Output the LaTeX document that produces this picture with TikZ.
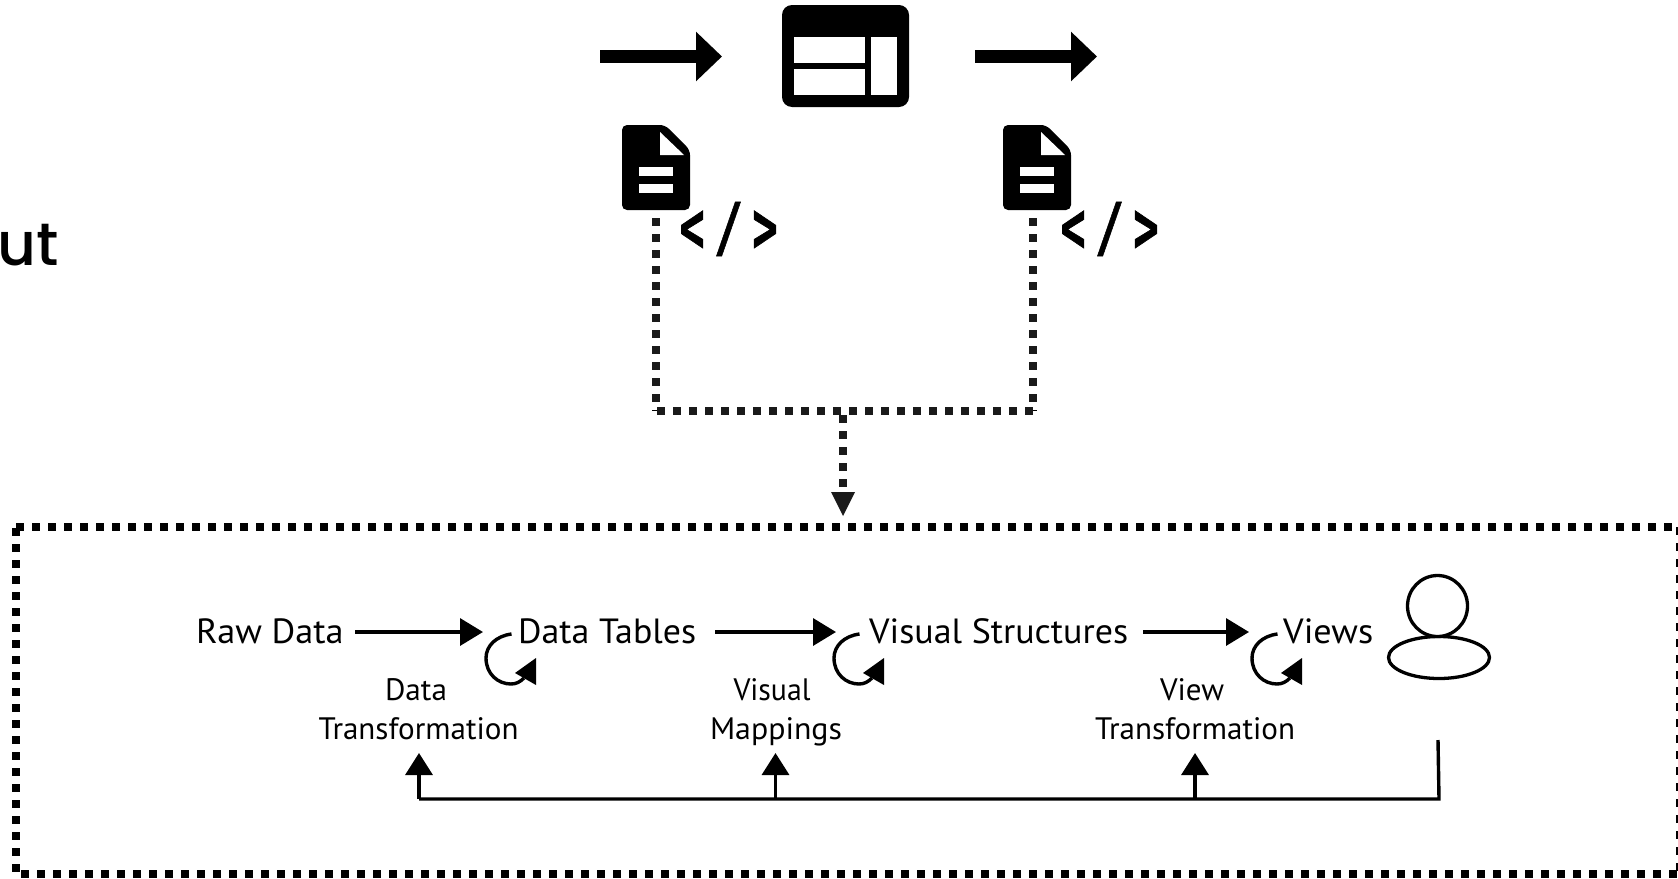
\documentclass[tikz,border=0pt]{standalone}
\usepackage{fontspec}
\usepackage{graphicx}
\setmainfont{PT Sans}
\newfontfamily\utfont{Poppins Medium}
\newfontfamily\codefont[BoldFeatures={FakeBold=1}]{DejaVu Sans Mono}
\usetikzlibrary{arrows.meta}
\definecolor{dotc}{HTML}{1A1A1A}
\tikzset{
  txt/.style={inner sep=0pt,anchor=base west,text=black},
  ctr/.style={inner sep=0pt,anchor=base,text=black},
  big/.style={font=\fontsize{35pt}{35pt}\selectfont},
  small/.style={font=\fontsize{31pt}{31pt}\selectfont},
  blockarrow/.style={line width=13pt,-{Triangle[length=26pt,width=48pt]}},
  flow/.style={line width=3.4pt,-{Triangle[length=23pt,width=27pt]}},
  feedback/.style={line width=3.4pt,-{Triangle[length=22pt,width=27pt]}},
  plain/.style={line width=3.4pt},
  usershape/.style={line width=3.3pt},
  dots/.style={draw=dotc,line width=8pt,dash pattern=on 8pt off 8pt},
  boxdots/.style={draw=black,line width=8pt,dash pattern=on 8pt off 8pt},
  codetxt/.style={inner sep=0pt,anchor=base,font=\codefont\bfseries\fontsize{60pt}{60pt}\selectfont},
}
\newcommand{\tw}[2]{\resizebox{#1pt}{\height}{#2}}
\newcommand{\tagtext}{\raisebox{-7pt}{\scalebox{.7}[1.2]{<}}\kern9pt\raisebox{-5pt}{\scalebox{.82}[1.1]{/}}\kern9pt\raisebox{-7pt}{\scalebox{.7}[1.2]{>}}}
\newcommand{\docicon}{%
  \fill[black,rounded corners=5pt] (622,125) -- (665,125) -- (690,150) -- (690,210) -- (622,210) -- cycle;
  \fill[white] (660,132) -- (660,155) -- (684,155) -- cycle;
  \fill[white] (639,167) rectangle (673,176);
  \fill[white] (639,184) rectangle (673,193);
}
\begin{document}
\begin{tikzpicture}[x=1pt,y=-1pt]
\useasboundingbox (0,0) rectangle (1678,878);
\clip (0,0) rectangle (1678,878);
\fill[white] (0,0) rectangle (1678,878);

% clipped text
\node[txt,font=\utfont\fontsize{60pt}{60pt}\selectfont] (ut) at (-3,265) {ut};

% top arrows
\coordinate (a1s) at (600,56.5); \coordinate (a1e) at (722,56.5);
\coordinate (a2s) at (975,56.5); \coordinate (a2e) at (1097,56.5);
\draw[blockarrow] (a1s) -- (a1e);
\draw[blockarrow] (a2s) -- (a2e);

% window icon
\node[fill=black,rounded corners=10pt,minimum width=127pt,minimum height=102pt,inner sep=0pt] (win) at (845.5,56) {};
\fill[white] (794,37) rectangle (865,63);
\fill[white] (794,69) rectangle (865,95);
\fill[white] (871,37) rectangle (897,95);

% doc icons
\docicon
\begin{scope}[shift={(381,0)}]\docicon\end{scope}

% code text
\node[codetxt] (code1) at (728.5,245) {\tagtext};
\node[codetxt] (code2) at (1109.5,245) {\tagtext};

% dotted bracket
\coordinate (d1) at (656,218); \coordinate (d1b) at (656,411);
\coordinate (d2) at (1033,218); \coordinate (d2b) at (1033,411);
\coordinate (h1) at (657,411); \coordinate (h2) at (1033,411);
\coordinate (m1) at (843,415); \coordinate (m2) at (843,490);
\coordinate (tip) at (843,516);
\draw[dots] (d1) -- (d1b);
\draw[dots] (d2) -- (d2b);
\draw[dots] (h1) -- (h2);
\draw[dots] (m1) -- (m2);
\fill[dotc] (831,492) -- (855,492) -- (tip) -- cycle;
\draw[black,line width=0.8pt] (652,410.5) -- (657,410.5);
\draw[black,line width=0.8pt] (1033,410.5) -- (1037,410.5);

% dotted box
\coordinate (bx1) at (16,527); \coordinate (bx2) at (1680,527);
\coordinate (bx3) at (16,528); \coordinate (bx4) at (16,878);
\coordinate (bx6) at (21,874); \coordinate (bx5) at (1680,874);
\draw[boxdots] (bx1) -- (bx2);
\draw[boxdots] (bx3) -- (bx4);
\draw[boxdots] (bx6) -- (bx5);
\draw[boxdots] (bx2) -- (bx5);

% pipeline
\node[txt,big] (raw) at (196,643) {\tw{147.5}{Raw Data}};
\node[txt,big] (tab) at (518,643) {\tw{178}{Data Tables}};
\node[txt,big] (vis) at (869,643) {\tw{259}{Visual Structures}};
\node[txt,big] (view) at (1283,643) {\tw{90}{Views}};
\coordinate (f1s) at (355,632); \coordinate (f1e) at (483,632);
\coordinate (f2s) at (715,632); \coordinate (f2e) at (836,632);
\coordinate (f3s) at (1143,632); \coordinate (f3e) at (1249,632);
\draw[flow] (f1s) -- (f1e);
\draw[flow] (f2s) -- (f2e);
\draw[flow] (f3s) -- (f3e);

% curls
\foreach \dx in {0,348,766}{
\begin{scope}[shift={(\dx,0)}]
\draw[plain] (511.5,634) .. controls (496,636) and (486,646) .. (486,658) .. controls (486,674) and (498,684) .. (511,684) .. controls (516,684) and (520,682) .. (524,678);
\fill[black] (536,658) -- (515,673) -- (536,685) -- cycle;
\end{scope}}

% labels
\node[ctr,small] (l1a) at (416,700) {\tw{62}{Data}};
\node[ctr,small] (l1b) at (418.5,739.5) {\tw{200}{Transformation}};
\node[ctr,small] (l2a) at (772,700) {\tw{77}{Visual}};
\node[ctr,small] (l2b) at (776,739.5) {\tw{132}{Mappings}};
\node[ctr,small] (l3a) at (1192,700) {\tw{64}{View}};
\node[ctr,small] (l3b) at (1195,739.5) {\tw{200}{Transformation}};

% user
\draw[usershape] (1439,657.5) ellipse [x radius=50.5,y radius=21];
\draw[usershape,fill=white] (1437.5,606) ellipse [x radius=30,y radius=30.5];

% feedback
\coordinate (u) at (1438,740); \coordinate (c) at (1439,799);
\coordinate (c1) at (419,799); \coordinate (t1) at (419,753);
\coordinate (c2) at (775.5,799); \coordinate (t2) at (775.5,753);
\coordinate (c3) at (1195,799); \coordinate (t3) at (1195,753);
\draw[plain] (u) -- (c) -- (c1);
\draw[feedback] (c1) -- (t1);
\draw[feedback] (c2) -- (t2);
\draw[feedback] (c3) -- (t3);
\end{tikzpicture}
\end{document}
